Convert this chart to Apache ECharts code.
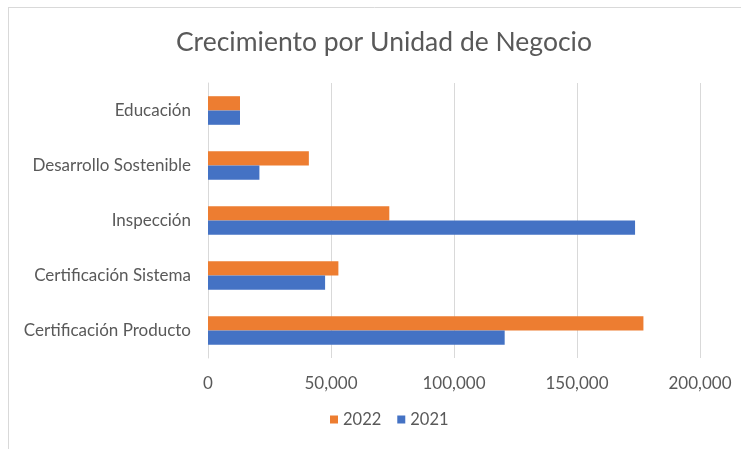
<!DOCTYPE html>
<html>
<head>
<meta charset="utf-8">
<script src="https://cdn.jsdelivr.net/npm/echarts@6/dist/echarts.min.js"></script>
<style>
  html, body { margin: 0; padding: 0; background: #fff; }
  #chart { width: 741px; height: 449px; }
</style>
</head>
<body>
<div id="chart"></div>
<script>
// data
const categories = ["Certificación Producto", "Certificación Sistema", "Inspección", "Desarrollo Sostenible", "Educación"];
const values2022 = [177000, 53000, 73700, 41000, 13000];
const values2021 = [120600, 47600, 173600, 20900, 13000];
const xTicks = [0, 50000, 100000, 150000, 200000];

const chart = echarts.init(document.getElementById("chart"));
const font = "Lato, 'Open Sans', sans-serif";

const option = {
    animation: false,
    title: {
        text: "Crecimiento por Unidad de Negocio",
        left: 171,
        top: 24,
        textStyle: { fontFamily: font, fontSize: 26.5, fontWeight: "normal", color: "#595959" }
    },
    legend: {
        bottom: 16,
        left: 325,
        itemWidth: 8,
        itemHeight: 8,
        itemGap: 16,
        icon: "rect",
        textStyle: { fontFamily: font, fontSize: 16.5, color: "#595959" },
        data: ["2022", "2021"]
    },
    grid: { left: 208, right: 41, top: 83, bottom: 91 },
    xAxis: {
        type: "value",
        min: xTicks[0],
        max: xTicks[xTicks.length - 1],
        interval: 50000,
        axisLine: { show: false },
        axisTick: { show: false },
        splitLine: { lineStyle: { color: "#d9d9d9", width: 1 } },
        axisLabel: {
            fontFamily: font, fontSize: 17, color: "#595959", margin: 17,
            formatter: v => v.toLocaleString("en-US")
        }
    },
    yAxis: {
        type: "category",
        data: categories,
        axisLine: { lineStyle: { color: "#d9d9d9" } },
        axisTick: { show: false },
        axisLabel: { fontFamily: font, fontSize: 17, color: "#595959", margin: 17 }
    },
    series: [
        { name: "2022", type: "bar", data: values2022, barGap: "0%", barCategoryGap: "48%", itemStyle: { color: "#ED7D31" } },
        { name: "2021", type: "bar", data: values2021, barGap: "0%", barCategoryGap: "48%", itemStyle: { color: "#4472C4" } }
    ],
    graphic: [
        { type: "line", shape: { x1: 8, y1: 7.5, x2: 741, y2: 7.5 }, style: { stroke: "#d9d9d9", lineWidth: 1 } },
        { type: "line", shape: { x1: 8.5, y1: 7, x2: 8.5, y2: 449 }, style: { stroke: "#d9d9d9", lineWidth: 1 } }
    ]
};

chart.setOption(option);
</script>
</body>
</html>
